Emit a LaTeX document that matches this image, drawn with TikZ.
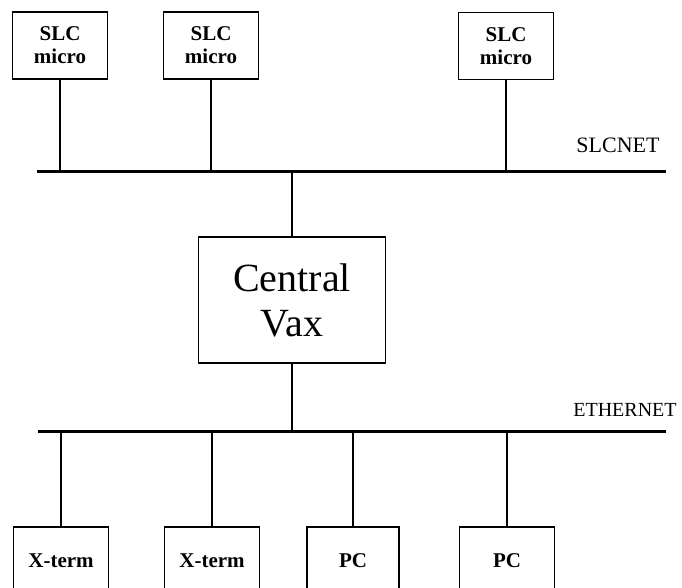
\documentclass[tikz,border=0pt]{standalone}
\usepackage{fontspec}
\setmainfont{Liberation Serif}
\usetikzlibrary{positioning}

\begin{document}
\begin{tikzpicture}[x=1pt,y=-1pt,
      dev/.style={draw,line width=1.9pt,minimum width=95pt,minimum height=67pt,
                  inner sep=0pt,align=center,font=\fontsize{21}{23}\selectfont\bfseries},
      host/.style={draw,line width=1.9pt,minimum width=187pt,minimum height=126pt,
                   inner sep=0pt,align=center,font=\fontsize{40}{45}\selectfont},
      bus/.style={line width=3pt},
      wire/.style={line width=1.9pt},
      netname/.style={font=\fontsize{22}{24}\selectfont}]
    \useasboundingbox (0,0) rectangle (682,588);
    \clip (0,0) rectangle (682,588);
    % networks
    \coordinate (slcL) at (37,172);
    \coordinate (slcR) at (666,172);
    \coordinate (ethL) at (38,431);
    \coordinate (ethR) at (666,431);
    \draw[bus] (slcL) -- (slcR);
    \draw[bus] (ethL) -- (ethR);
    \node[netname] (slcnet) at (618,145) {SLCNET};
    \node[netname,font=\fontsize{20}{22}\selectfont] (ethnet) at (625,410) {ETHERNET};
    % micros on SLCNET
    \node[dev] (slcA) at (60,45.5) {SLC\\micro};
    \node[dev] (slcB) at (211,45.5) {SLC\\micro};
    \node[dev] (slcC) at (506,46) {SLC\\micro};
    \draw[wire] (slcA.south) -- (slcA.south |- slcL);
    \draw[wire] (slcB.south) -- (slcB.south |- slcL);
    \draw[wire] (slcC.south) -- (slcC.south |- slcL);
    % central host
    \node[host] (vax) at (292,300) {Central\\Vax};
    \draw[wire] (vax.north) -- (vax.north |- slcL);
    \draw[wire] (vax.south) -- (vax.south |- ethL);
    % terminals on ETHERNET (boxes run off the bottom)
    \node[dev,minimum height=68pt] (xtA) at (61,561) {X-term};
    \node[dev,minimum height=68pt] (xtB) at (212,561) {X-term};
    \node[dev,minimum height=68pt,minimum width=92pt] (pcA) at (353,561) {PC};
    \node[dev,minimum height=68pt] (pcB) at (507,561) {PC};
    \draw[wire] (xtA.north) -- (xtA.north |- ethL);
    \draw[wire] (xtB.north) -- (xtB.north |- ethL);
    \draw[wire] (pcA.north) -- (pcA.north |- ethL);
    \draw[wire] (pcB.north) -- (pcB.north |- ethL);
  \end{tikzpicture}
\end{document}
